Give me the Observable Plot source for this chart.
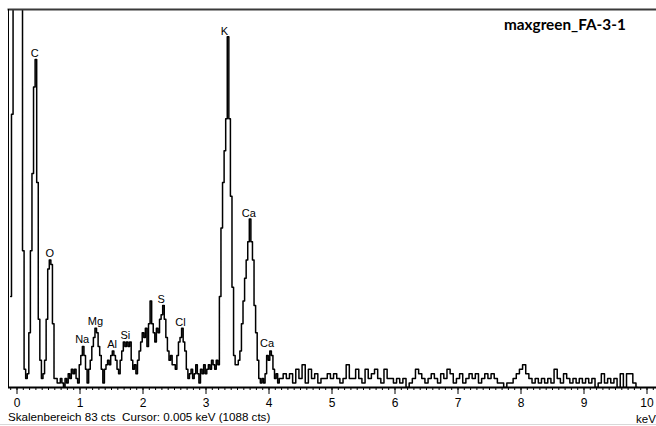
<!DOCTYPE html>
<html><head><meta charset="utf-8">
<script src="https://cdn.jsdelivr.net/npm/d3@7"></script>
<script src="https://cdn.jsdelivr.net/npm/@observablehq/plot@0.6"></script>
<style>
body{margin:0;background:#fff;}
#wrap{position:relative;width:656px;height:426px;overflow:hidden;font-family:"Liberation Sans",Arial,sans-serif;background:#fff;}
#wrap svg{position:absolute;left:0;top:0;}
.lbl{position:absolute;white-space:pre;line-height:1;color:#000;}
#title{font-family:Lato,"Open Sans",sans-serif;font-weight:bold;font-size:15.3px;left:504px;top:17px;}
#caption{font-size:11.6px;left:8px;top:411px;}
#unit{font-size:11.5px;left:636px;top:414px;}
#bottomline{position:absolute;left:0;top:424px;width:656px;height:1px;background:#d8d8d8;}
</style></head><body><div id="wrap"></div>
<script>
// spectrum channels (counts), fine grid in the low-energy region
const lowStart = -0.1, lowStep = 0.025;
const lowCounts = [
20,60,200,200,200,200,200,200,30,4,2,3,12,30,47,66,72,45,15,6,2,3,6,15,26,28,27,14,2,
2,1,1,2,1,0,2,1,3,2,4,3,4,2,1,5,7,9,7,4,1,4,6,9,11,13,12,9,7,4,1,4,5,6,5,7,8,7,6,4,3,
6,8,10,9,10,9,10,6,4,5,3,6,8,10,12,11,13,9,14,19,14,12,10,13,12,15,16,18,15,11,8,6,7,5,5,4,
7,10,11,13,10,8,4,2,3,4,2,3,5,3,1,4,3,5,3,4,5,4,6,5,4,6,5,20,35,45,52,59,77,59,42,22,7,
5,5,6,8,14,19,24,28,32,37,32,28,18,12,6,2,1,2,1,3,7,6,8,7,4,2,3,1,2
];
// coarser grid above 4.2 keV
const highStart = 4.2, highStep = 0.05;
const highCounts = [
2,3,2,3,1,4,2,5,1,4,2,3,1,2,2,3,2,3,2,1,2,5,2,2,4,2,1,4,2,3,4,2,1,4,2,2,1,2,1,2,0,1,2,4,
3,2,1,2,3,2,1,3,2,4,3,1,2,3,1,2,3,2,3,1,2,3,2,3,2,1,1,0,1,1,2,3,4,5,3,2,1,2,1,2,1,2,1,4,
2,1,3,2,1,2,1,2,1,2,1,2,0,1,3,1,2,1,2,0,3,0,3,3,1,0
];
const tickValues = [0,1,2,3,4,5,6,7,8,9,10];
const tickLabels = ["0","1","2","3","4","5","6","7","8","9","10"];
const elements   = ["C","O","Na","Mg","Al","Si","S","Cl","K","Ca","Ca"];
const elementKeV = [0.283,0.52,1.035,1.246,1.51,1.72,2.29,2.595,3.294,3.68,3.97];
const elementCts = [73.4,29.5,10.5,14.6,9.45,11.4,19.3,14.35,78.2,38.3,9.6];
const titleText = "maxgreen_FA-3-1";
const captionText = "Skalenbereich 83 cts  Cursor: 0.005 keV (1088 cts)";
const unitText = "keV";
const yMax = 83;

const spectrum = [];
lowCounts.forEach((c,i)=>spectrum.push({e: Math.round((lowStart+i*lowStep)*1000)/1000, c: c}));
highCounts.forEach((c,i)=>spectrum.push({e: Math.round((highStart+i*highStep)*1000)/1000, c: c}));
const minorTicks = d3.range(-1, 102).map(i => i/10);
const labels = elements.map((e,i)=>({name:e, e:elementKeV[i], c:elementCts[i]}));

const chart = Plot.plot({
  width: 656, height: 426,
  marginLeft: 8, marginRight: 0, marginTop: 9, marginBottom: 39,
  style: {fontFamily: "Liberation Sans, Arial, sans-serif", background: "transparent"},
  x: {domain: [0, 10], range: [16.5, 646.5], axis: null, label: null},
  y: {domain: [0, yMax], axis: null, label: null},
  marks: [
    Plot.line(spectrum, {x: "e", y: "c", curve: "step", stroke: "#000", strokeWidth: 1.5, clip: true}),
    Plot.text(labels, {x: "e", y: "c", text: "name", fontSize: 11, fill: "#000"}),
    Plot.frame({anchor: "top", stroke: "#3a3a3a", strokeWidth: 2}),
    Plot.frame({anchor: "left", stroke: "#000", strokeWidth: 1}),
    Plot.ruleY([0], {stroke: "#000", strokeWidth: 2}),
    Plot.axisX(minorTicks, {anchor: "bottom", label: null, tickSize: 3, tickFormat: () => "", stroke: "#000"}),
    Plot.axisX(tickValues, {anchor: "bottom", label: null, tickSize: 7, tickPadding: 4, fontSize: 12, stroke: "#000", fill: "#000",
      tickFormat: d => tickLabels[tickValues.indexOf(d)]})
  ]
});
const wrap = document.getElementById("wrap");
wrap.appendChild(chart);
function addLabel(id, txt){const d=document.createElement("div");d.className="lbl";d.id=id;d.textContent=txt;wrap.appendChild(d);}
addLabel("title", titleText);
addLabel("caption", captionText);
addLabel("unit", unitText);
const bl=document.createElement("div");bl.id="bottomline";wrap.appendChild(bl);
</script></body></html>
